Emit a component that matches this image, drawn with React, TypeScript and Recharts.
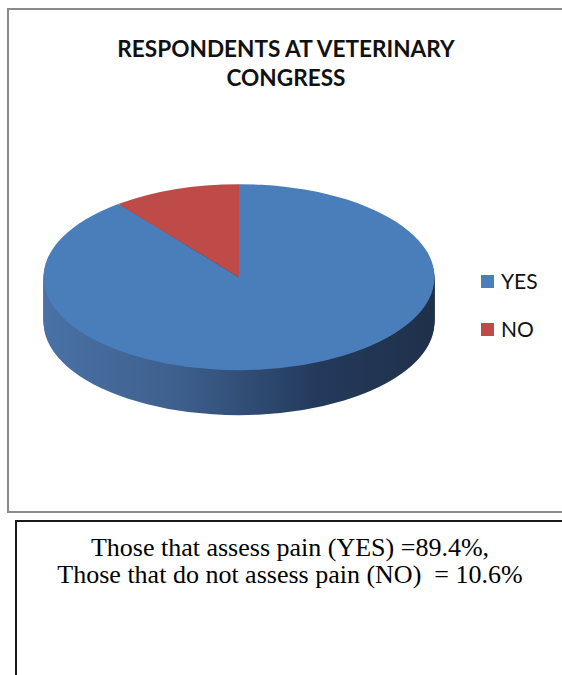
import { PieChart, Pie, Cell } from "recharts";

const categories = ["YES", "NO"];
const shares = [89.4, 10.6];
const sliceColors = ["#4a7ebb", "#be4b48"];

const titleLines = ["RESPONDENTS AT VETERINARY", "CONGRESS"];
const noteLines = [
  "Those that assess pain (YES) =89.4%,",
  "Those that do not assess pain (NO)  = 10.6%",
];

// 3D look: a circle squashed vertically, with stacked copies below for the rim
const R = 195.5;
const TILT = 93 / R;
const DEPTH = 45 / TILT;
const LAYERS = 24;
const CX = 210;
const CY = 200;

export default function App() {
  const data = categories.map((name, i) => ({ name, value: shares[i] }));
  const layers = Array.from({ length: LAYERS }, (_, i) => CY + (DEPTH * (LAYERS - i)) / LAYERS);

  return (
    <div style={{ position: "relative", width: 562, height: 675, overflow: "hidden", background: "#fff" }}>
      <style>{"body{margin:0;overflow:hidden}"}</style>

      {/* chart frame */}
      <div
        style={{
          position: "absolute",
          left: 7,
          top: 8,
          width: 600,
          height: 505,
          boxSizing: "border-box",
          border: "2px solid #8a8a8a",
        }}
      />

      <div
        style={{
          position: "absolute",
          left: 86,
          top: 34,
          width: 400,
          textAlign: "center",
          fontFamily: "Lato, 'Open Sans', sans-serif",
          fontWeight: 700,
          fontSize: 22.6,
          lineHeight: "29px",
          color: "#111",
        }}
      >
        {titleLines.map((t) => (
          <div key={t}>{t}</div>
        ))}
      </div>

      <div
        style={{
          position: "absolute",
          left: 238.5 - CX,
          top: 277 - CY * TILT,
          transform: `scaleY(${TILT})`,
          transformOrigin: "0 0",
        }}
      >
        <PieChart width={420} height={500} margin={{ top: 0, right: 0, bottom: 0, left: 0 }}>
          <defs>
            <linearGradient id="rim" x1="0" y1="0" x2="1" y2="0">
              <stop offset="0%" stopColor="#4a72a6" />
              <stop offset="35%" stopColor="#3d5f8c" />
              <stop offset="70%" stopColor="#243a5c" />
              <stop offset="100%" stopColor="#1f3049" />
            </linearGradient>
          </defs>
          {layers.map((y, k) => (
            <Pie
              key={`rim-${k}`}
              data={data}
              dataKey="value"
              nameKey="name"
              cx={CX}
              cy={y}
              outerRadius={R}
              startAngle={90}
              endAngle={-270}
              stroke="none"
              isAnimationActive={false}
            >
              {data.map((d) => (
                <Cell key={d.name} fill="url(#rim)" />
              ))}
            </Pie>
          ))}
          <Pie
            data={data}
            dataKey="value"
            nameKey="name"
            cx={CX}
            cy={CY}
            outerRadius={R}
            startAngle={90}
            endAngle={-270}
            stroke="none"
            isAnimationActive={false}
          >
            {data.map((d, i) => (
              <Cell key={d.name} fill={sliceColors[i]} />
            ))}
          </Pie>
        </PieChart>
      </div>

      {/* legend */}
      {categories.map((c, i) => (
        <div
          key={c}
          style={{
            position: "absolute",
            left: 481,
            top: 270 + i * 48,
            display: "flex",
            alignItems: "center",
            fontFamily: "Lato, 'Open Sans', sans-serif",
            fontSize: 21,
            lineHeight: "22px",
            color: "#111",
          }}
        >
          <span style={{ width: 13, height: 13, background: sliceColors[i], marginRight: 7, marginTop: 1 }} />
          <span>{c}</span>
        </div>
      ))}

      {/* note box */}
      <div
        style={{
          position: "absolute",
          left: 15,
          top: 520,
          width: 600,
          height: 200,
          boxSizing: "border-box",
          border: "2px solid #1a1a1a",
        }}
      />
      <div
        style={{
          position: "absolute",
          left: 15,
          top: 534,
          width: 550,
          textAlign: "center",
          fontFamily: "'Liberation Serif', 'Times New Roman', serif",
          fontSize: 26,
          lineHeight: "27px",
          color: "#000",
          whiteSpace: "pre",
        }}
      >
        {noteLines.map((t) => (
          <div key={t}>{t}</div>
        ))}
      </div>
    </div>
  );
}
